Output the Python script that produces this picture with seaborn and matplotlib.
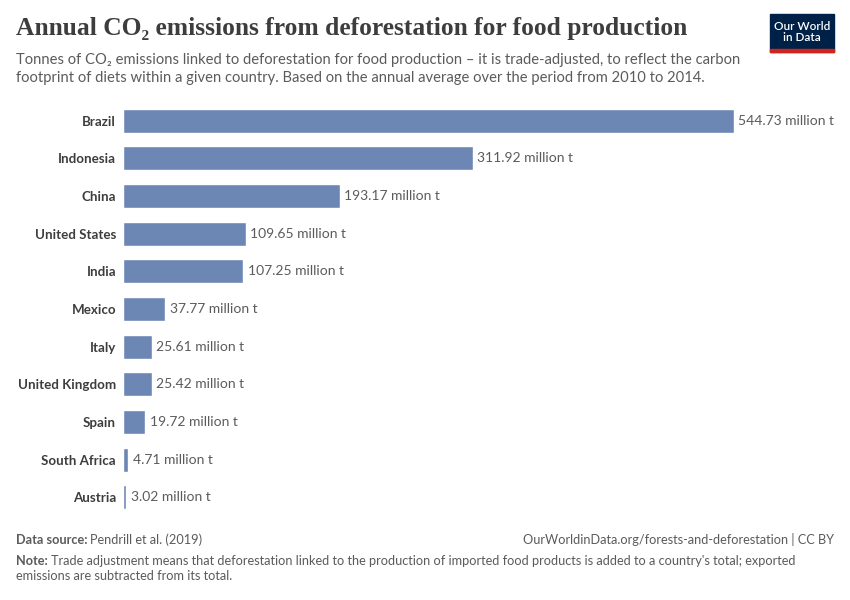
import matplotlib
matplotlib.use("Agg")
import matplotlib.pyplot as plt
import matplotlib.patches as patches
import pandas as pd
import seaborn as sns

# Data
countries = ["Brazil", "Indonesia", "China", "United States", "India", "Mexico",
             "Italy", "United Kingdom", "Spain", "South Africa", "Austria"]
emissions = [544.73, 311.92, 193.17, 109.65, 107.25, 37.77,
             25.61, 25.42, 19.72, 4.71, 3.02]

df = pd.DataFrame({"country": countries, "emissions": emissions})

sns.set_theme(style="white")
plt.rcParams["font.family"] = ["Lato", "DejaVu Sans"]

fig = plt.figure(figsize=(8.5, 6), dpi=100)
ax = fig.add_axes([0.1447, 0.14, 0.8635 - 0.1447, 0.69])

sns.barplot(data=df, x="emissions", y="country", orient="h",
            color="#6d87b4", saturation=1, width=0.64, ax=ax)

ax.set_xlim(0, max(emissions))
ax.set_ylim(len(countries) - 0.5, -0.5)
ax.set_xticks([])
ax.set_xlabel("")
ax.set_ylabel("")
for s in ax.spines.values():
    s.set_visible(False)
ax.tick_params(axis="y", length=0, pad=5)
for lbl in ax.get_yticklabels():
    lbl.set_fontweight("bold")
    lbl.set_fontsize(9.6)
    lbl.set_color("#3d3d3d")

for i, v in enumerate(emissions):
    ax.text(v + 4, i, f"{v:.2f} million t", va="center", ha="left",
            fontsize=10, color="#5b5b5b", clip_on=False)

# Title and subtitle
fig.text(16 / 850, 1 - 29 / 600, "Annual CO₂ emissions from deforestation for food production",
         family=["Liberation Serif", "DejaVu Serif"], fontsize=18.4, fontweight="bold",
         color="#3d3d3d", va="center", ha="left")
fig.text(16 / 850, 1 - 53 / 600,
         "Tonnes of CO₂ emissions linked to deforestation for food production – it is trade-adjusted, to reflect the carbon\n"
         "footprint of diets within a given country. Based on the annual average over the period from 2010 to 2014.",
         fontsize=10.65, color="#5b5b5b", va="top", ha="left", linespacing=1.4)

# Logo
logo = patches.Rectangle((770 / 850, 1 - 52 / 600), 64 / 850, 38 / 600,
                         transform=fig.transFigure, color="#002147")
fig.patches.append(logo)
red = patches.Rectangle((770 / 850, 1 - 52 / 600), 64 / 850, 3 / 600,
                        transform=fig.transFigure, color="#ce261e")
fig.patches.append(red)
fig.text(802 / 850, 1 - 32 / 600, "Our World\nin Data", color="white", fontsize=8.5,
         fontweight="semibold", ha="center", va="center", linespacing=1.05)

# Footer
renderer = fig.canvas.get_renderer()


def label_pair(y, bold, rest, size=9.2):
    t = fig.text(16 / 850, 1 - y / 600, bold, fontsize=size, color="#5b5b5b",
                 fontweight="bold", va="center")
    bb = t.get_window_extent(renderer)
    x = bb.x1 / fig.bbox.width + 3 / 850
    fig.text(x, 1 - y / 600, rest, fontsize=size, color="#5b5b5b", va="center")


label_pair(540, "Data source:", "Pendrill et al. (2019)")
fig.text(834 / 850, 1 - 540 / 600, "OurWorldinData.org/forests-and-deforestation | CC BY",
         fontsize=9.2, color="#5b5b5b", va="center", ha="right")
label_pair(561, "Note:", "Trade adjustment means that deforestation linked to the production of imported food products is added to a country's total; exported")
fig.text(16 / 850, 1 - 576 / 600, "emissions are subtracted from its total.",
         fontsize=9.2, color="#5b5b5b", va="center")

fig.savefig("out.png", dpi=100)
